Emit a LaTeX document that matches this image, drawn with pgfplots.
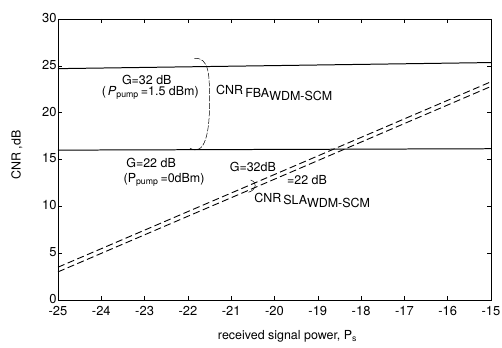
\documentclass[border=0pt]{standalone}
\usepackage{pgfplots}
\pgfplotsset{compat=1.18}
\usepackage{fontspec}
\setmainfont{TeX Gyre Heros}
\begin{document}
\begin{tikzpicture}
\useasboundingbox (-58bp,-48bp) rectangle (444bp,300bp);
\begin{axis}[
  at={(0,0)}, anchor=south west,
  scale only axis, width=433bp, height=281bp,
  xmin=-25, xmax=-15, ymin=0, ymax=30,
  xtick={-25,-24,...,-15}, ytick={0,5,...,30},
  tick align=inside, major tick length=4bp,
  tick style={black, line width=0.6pt},
  axis line style={line width=1pt},
  tick label style={font=\fontsize{13}{15}\selectfont},
  /pgf/number format/assume math mode=true,
  xticklabel style={yshift=-3bp},
  yticklabel style={xshift=2bp, yshift=1bp},
  clip=false,
]
\addplot[black, line width=1pt] coordinates {(-25,24.7) (-15,25.35)};
\addplot[black, line width=1pt] coordinates {(-25,16.0) (-15,16.15)};
\addplot[black, line width=0.9pt, dash pattern=on 7bp off 3.5bp] coordinates {(-25,3.5) (-15,23.3)};
\addplot[black, line width=0.9pt, dash pattern=on 7bp off 3.5bp] coordinates {(-25,3.0) (-15,22.8)};
% bracket
\draw[black, line width=0.5pt, dash pattern=on 6bp off 1.5bp] (axis cs:-21.85,25.8) .. controls (axis cs:-21.5,25.9) and (axis cs:-21.5,24) .. (axis cs:-21.5,21)
  .. controls (axis cs:-21.5,18) and (axis cs:-21.6,15.3) .. (axis cs:-21.95,16.2);
\draw[black, line width=0.5pt] (axis cs:-20.55,12.8) .. controls (axis cs:-20.4,12.6) and (axis cs:-20.4,11.8) .. (axis cs:-20.6,11.5);
\begin{scope}[every node/.style={font=\fontsize{12.5}{14}\selectfont, inner sep=0pt}]
\node at (axis cs:-22.95,23.5) {G=32 dB};
\node at (axis cs:-22.87,22.1) {(\,\textit{P}\textsubscript{pump}\,=1.5 dBm)};
\node at (axis cs:-22.85,14.6) {G=22 dB};
\node at (axis cs:-22.55,12.8) {(P\textsubscript{pump}\,=0dBm)};
\node[anchor=base west] at (axis cs:-21.35,21.9) {CNR\raisebox{-0.35ex}{\,FBA\raisebox{-0.45ex}{WDM-SCM}}};
\node at (axis cs:-20.5,14.2) {G=32dB};
\node at (axis cs:-19.25,12.8) {=22 dB};
\node[anchor=base west] at (axis cs:-20.47,10.4) {CNR\raisebox{-0.35ex}{\,SLA\raisebox{-0.45ex}{WDM-SCM}}};
\node at (axis description cs:0.53,-0.13) {received signal power, P\textsubscript{s}};
\node[rotate=90] at (axis description cs:-0.095,0.516) {CNR ,dB};
\end{scope}
\end{axis}
\end{tikzpicture}
\end{document}
